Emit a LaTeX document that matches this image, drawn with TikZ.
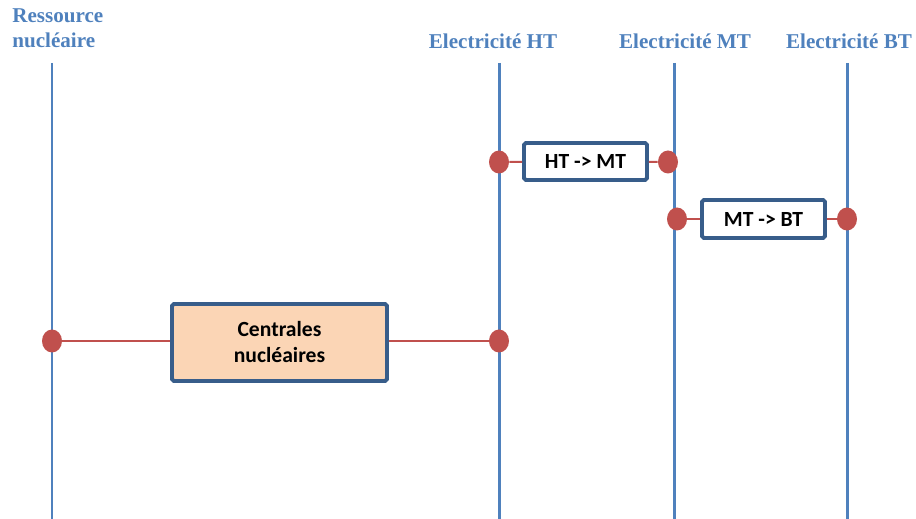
\documentclass[tikz,border=0pt]{standalone}
\usepackage{fontspec}
\setmainfont{Liberation Serif}
\newfontfamily\boxfont{Carlito}
\usetikzlibrary{shapes.geometric}
\definecolor{axe}{RGB}{79,129,189}
\definecolor{rouge}{RGB}{192,80,77}
\definecolor{cadre}{RGB}{56,93,138}
\definecolor{saumon}{RGB}{251,213,181}
\begin{document}
\begin{tikzpicture}[x=0.02cm,y=-0.02cm,
	titre/.style={text=axe,inner sep=0pt,font=\bfseries\fontsize{12}{14.2}\selectfont},
	boite/.style={draw=cadre,fill=white,line width=2.2pt,rounded corners=1pt,align=center,font=\boxfont\bfseries\fontsize{12.3}{14.8}\selectfont},
	point/.style={ellipse,fill=rouge,minimum width=0.4cm,minimum height=0.46cm,inner sep=0pt},
	trait/.style={rouge,line width=1.1pt}]
	\useasboundingbox (0,0) rectangle (916,519);
	% axes verticaux
	\foreach \n/\x in {res/52,ht/499,mt/674,bt/847}{
		\coordinate (\n haut) at (\x,63);
		\coordinate (\n bas) at (\x,519);
		\draw[axe,line width=1.7pt] (\n haut) -- (\n bas);}
	\node[titre,align=left,anchor=north west] (tres) at (12,8) {Ressource\\nucléaire};
	\node[titre] (tht) at (493,41) {Electricité HT};
	\node[titre] (tmt) at (685,41) {Electricité MT};
	\node[titre] (tbt) at (849,41) {Electricité BT};
	% boites
	\node[boite,minimum width=2.46cm,minimum height=0.74cm] (htmt) at (585.5,161.5) {HT -> MT};
	\node[boite,minimum width=2.46cm,minimum height=0.76cm] (mtbt) at (763.5,219) {MT -> BT};
	\node[boite,fill=saumon,minimum width=4.3cm,minimum height=1.54cm] (cn) at (279.5,342.5) {Centrales\\nucléaires};
	% points
	\node[point] (p1) at (499,162) {};
	\node[point] (p2) at (668,162) {};
	\node[point] (p3) at (677,219) {};
	\node[point] (p4) at (847,219) {};
	\node[point] (p5) at (52,341) {};
	\node[point] (p6) at (499,341) {};
	\draw[trait] (p1) -- (htmt);
	\draw[trait] (htmt) -- (p2);
	\draw[trait] (p3) -- (mtbt);
	\draw[trait] (mtbt) -- (p4);
	\draw[trait] (p5) -- (p5 -| cn.west);
	\draw[trait] (cn.east |- p6) -- (p6);
\end{tikzpicture}
\end{document}
